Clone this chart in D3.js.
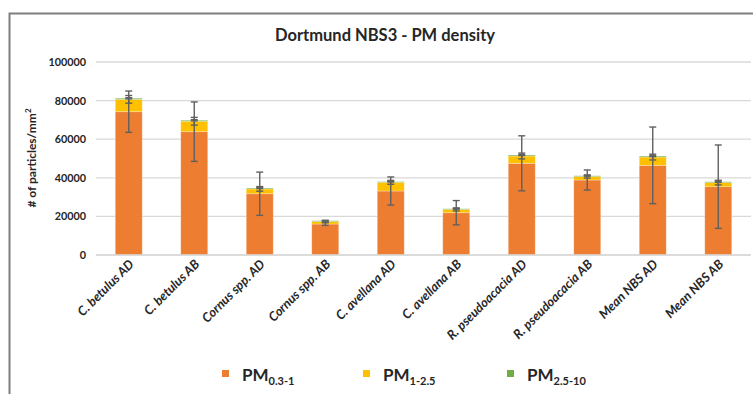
<!DOCTYPE html>
<html>
<head>
<meta charset="utf-8">
<script src="https://cdn.jsdelivr.net/npm/d3@7/dist/d3.min.js"></script>
<style>
  html, body { margin: 0; padding: 0; background: #fff; }
  svg { display: block; font-family: Lato, "Open Sans", sans-serif; }
</style>
</head>
<body>
<svg id="chart" width="753" height="394"></svg>
<script>
// Particle density per leaf area, by species and side (AD / AB)
const categories = [
  "C. betulus AD", "C. betulus AB", "Cornus spp. AD", "Cornus spp. AB",
  "C. avellana AD", "C. avellana AB", "R. pseudoacacia AD", "R. pseudoacacia AB",
  "Mean NBS AD", "Mean NBS AB"
];
const pm03_1  = [74250, 63900, 31750, 16050, 33150, 21900, 47500, 38850, 46450, 35400];
const pm1_25  = [6400, 5400, 2500, 1300, 4500, 1700, 3800, 1800, 4300, 2100];
const pm25_10 = [550, 500, 450, 400, 350, 350, 500, 400, 500, 450];
// standard deviations for each fraction
const err03_1  = [10700, 15400, 11200, 700, 7300, 6300, 14250, 5200, 19850, 21600];
const err1_25  = [2000, 2000, 1200, 500, 1000, 800, 1500, 800, 1500, 1200];
const err25_10 = [300, 300, 300, 200, 200, 200, 300, 200, 300, 300];
const yTicks = [0, 20000, 40000, 60000, 80000, 100000];

const seriesNames = ["PM0.3-1", "PM1-2.5", "PM2.5-10"];
const seriesLabels = [["PM", "0.3-1"], ["PM", "1-2.5"], ["PM", "2.5-10"]];
const colors = ["#ED7D31", "#FFC000", "#70AD47"];

const svg = d3.select("#chart");
const plot = { left: 96, right: 751, top: 62, bottom: 255 };

// outer chart frame
svg.append("rect")
  .attr("x", 9.5).attr("y", 13.5)
  .attr("width", 800).attr("height", 420)
  .attr("fill", "none").attr("stroke", "#7f7f7f").attr("stroke-width", 2);

const x = d3.scaleBand()
  .domain(categories)
  .range([plot.left, plot.right])
  .paddingInner(0.588)
  .paddingOuter(0.294);

const y = d3.scaleLinear()
  .domain([0, 100000])
  .range([plot.bottom, plot.top]);

// gridlines
svg.append("g")
  .selectAll("line")
  .data(yTicks)
  .join("line")
  .attr("x1", plot.left).attr("x2", plot.right)
  .attr("y1", d => y(d)).attr("y2", d => y(d))
  .attr("stroke", "#d9d9d9").attr("stroke-width", 1.3);

// y axis labels
const yAxis = d3.axisLeft(y).tickValues(yTicks).tickSize(0).tickPadding(0)
  .tickFormat(d3.format("d"));
const gy = svg.append("g").attr("transform", `translate(86,0)`).call(yAxis);
gy.select(".domain").remove();
gy.selectAll("text")
  .attr("font-family", "Lato, sans-serif")
  .attr("font-size", 10.8).attr("font-weight", "bold").attr("fill", "#262626");

// stacked data
const rows = categories.map((c, i) => ({
  cat: c, "PM0.3-1": pm03_1[i], "PM1-2.5": pm1_25[i], "PM2.5-10": pm25_10[i]
}));
const stacked = d3.stack().keys(seriesNames)(rows);
const errs = [err03_1, err1_25, err25_10];

svg.append("g")
  .selectAll("g")
  .data(stacked)
  .join("g")
  .attr("fill", (d, i) => colors[i])
  .selectAll("rect")
  .data(d => d)
  .join("rect")
  .attr("x", d => x(d.data.cat))
  .attr("width", x.bandwidth())
  .attr("y", d => y(d[1]))
  .attr("height", d => y(d[0]) - y(d[1]))
  .attr("stroke", "#ffffff").attr("stroke-opacity", 0.35).attr("stroke-width", 0.8);

// error bars, centred on the top of each stacked segment
const eg = svg.append("g").attr("stroke", "#606060").attr("stroke-width", 1.4);
stacked.forEach((layer, si) => {
  layer.forEach((d, i) => {
    const cx = x(d.data.cat) + x.bandwidth() / 2;
    const top = y(d[1] + errs[si][i]);
    const bot = y(d[1] - errs[si][i]);
    eg.append("line").attr("x1", cx).attr("x2", cx).attr("y1", top).attr("y2", bot);
    eg.append("line").attr("x1", cx - 3.5).attr("x2", cx + 3.5).attr("y1", top).attr("y2", top);
    eg.append("line").attr("x1", cx - 3.5).attr("x2", cx + 3.5).attr("y1", bot).attr("y2", bot);
  });
});

// x axis baseline
svg.append("line")
  .attr("x1", plot.left).attr("x2", plot.right)
  .attr("y1", y(0)).attr("y2", y(0))
  .attr("stroke", "#d9d9d9").attr("stroke-width", 1.3);

// category labels
svg.append("g")
  .selectAll("text")
  .data(categories)
  .join("text")
  .attr("transform", d => `translate(${x(d) + x.bandwidth() / 2 + 6},${plot.bottom + 10}) rotate(-45)`)
  .attr("text-anchor", "end")
  .attr("font-size", 12.8).attr("font-weight", "bold").attr("font-style", "italic")
  .attr("fill", "#262626")
  .text(d => d);

// title
svg.append("text")
  .attr("x", 385).attr("y", 41)
  .attr("text-anchor", "middle")
  .attr("font-size", 16.5).attr("font-weight", "bold").attr("fill", "#262626")
  .text("Dortmund NBS3 - PM density");

// y axis title
const yt = svg.append("text")
  .attr("transform", "translate(36,158) rotate(-90)")
  .attr("text-anchor", "middle")
  .attr("font-size", 12).attr("font-weight", "bold").attr("fill", "#262626");
yt.append("tspan").text("# of particles/mm");
yt.append("tspan").attr("font-size", 8).attr("dy", -5).text("2");

// legend
const legendX = [222, 363, 507];
const lg = svg.append("g");
seriesLabels.forEach((lab, i) => {
  lg.append("rect")
    .attr("x", legendX[i]).attr("y", 370)
    .attr("width", 7).attr("height", 7)
    .attr("fill", colors[i]);
  const t = lg.append("text")
    .attr("x", legendX[i] + 20).attr("y", 381)
    .attr("font-size", 17).attr("font-weight", "bold").attr("fill", "#262626");
  t.append("tspan").text(lab[0]);
  t.append("tspan").attr("font-size", 11).attr("dy", 4).text(lab[1]);
});
</script>
</body>
</html>
